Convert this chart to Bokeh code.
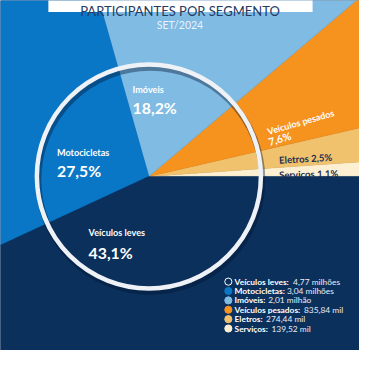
import math
from bokeh.plotting import figure
from bokeh.models import Range1d
from bokeh.core.properties import value
from bokeh.embed import file_html
from bokeh.resources import INLINE

# ---- data ----
segments = ["Serviços", "Eletros", "Veículos pesados", "Imóveis", "Motocicletas", "Veículos leves"]
shares = [1.1, 2.5, 7.6, 18.2, 27.5, 43.1]
share_labels = ["1,1%", "2,5%", "7,6%", "18,2%", "27,5%", "43,1%"]
colors = ["#fdf0d2", "#f1c26d", "#f6921e", "#7fbbe3", "#0a77c6", "#0b305c"]

legend_names = ["Veículos leves:", "Motocicletas:", "Imóveis:", "Veículos pesados:", "Eletros:", "Serviços:"]
legend_values = ["4,77 milhões", "3,04 milhões", "2,01 milhão", "835,84 mil", "274,44 mil", "139,52 mil"]
legend_fill = ["#0b305c", "#0a77c6", "#7fbbe3", "#f6921e", "#f1c26d", "#fdf0d2"]

title = "PARTICIPANTES POR SEGMENTO"
subtitle = "SET/2024"

# ---- layout helpers (reference pixel space 375x366) ----
W, H = 359, 350
S = W / 375.0
NAVY = "#0b305c"
FONT = value("Lato")


def Y(py):
    return 366 - py


def fs(px):
    return "%.1fpx" % (px * S)


def em_width(txt):
    w = 0.0
    for ch in txt:
        if ch in "iíl:,.'I":
            w += 0.27
        elif ch in "rf":
            w += 0.36
        elif ch == "t":
            w += 0.40
        elif ch == " ":
            w += 0.22
        elif ch == "m":
            w += 0.82
        elif ch in "MVW":
            w += 0.68
        elif ch.isupper():
            w += 0.6
        elif ch.isdigit():
            w += 0.58
        else:
            w += 0.52
    return w


p = figure(width=W, height=H, x_range=Range1d(0, 375), y_range=Range1d(0, 366),
           output_backend="svg", toolbar_location=None, x_axis_type=None, y_axis_type=None,
           min_border=0, background_fill_color=NAVY, border_fill_color=NAVY,
           outline_line_color=None)
p.grid.visible = False

cx, cy = 155, Y(184)

# wedges
starts, ends = [], []
acc = 0.0
for s in shares:
    starts.append(acc / 100 * 2 * math.pi)
    acc += s
    ends.append(acc / 100 * 2 * math.pi)
p.wedge(x=cx, y=cy, radius=600, start_angle=starts, end_angle=ends,
        fill_color=colors, line_color=colors, line_width=0.5, direction="anticlock")

# ring with shadow
p.circle(x=[cx + 1.5], y=[cy - 3.5], radius=117, fill_color=None,
         line_color="#021530", line_alpha=0.4, line_width=6)
p.circle(x=[cx], y=[cy], radius=117, fill_color=None,
         line_color="#eef1f5", line_width=4.5)

# title box
p.quad(left=[50], right=[326], bottom=[Y(12)], top=[Y(-2)], fill_color="white", line_color=None)
p.text(x=[187.5], y=[Y(11)], text=[title], text_font=FONT, text_font_size=fs(13.6),
       text_color="#253a63", text_align="center", text_baseline="alphabetic")
p.text(x=[187.5], y=[Y(25.5)], text=[subtitle], text_font=FONT, text_font_size=fs(11),
       text_color="#eaf2fa", text_align="center", text_baseline="alphabetic")

# big labels inside ring
name_idx = [3, 4, 5]
nx = [138, 59, 92]
ny = [93, 159, 243]
py_ = [112, 178, 263]
p.text(x=nx, y=[Y(v) for v in ny], text=[segments[i] for i in name_idx], text_font=FONT,
       text_font_size=fs(9.5), text_font_style="bold", text_color="white",
       text_baseline="alphabetic")
p.text(x=nx, y=[Y(v) for v in py_], text=[share_labels[i] for i in name_idx], text_font=FONT,
       text_font_size=fs(16.5), text_font_style="bold", text_color="white",
       text_baseline="alphabetic")

# Veículos pesados (rotated)
ang = math.radians(16)
p.text(x=[279], y=[Y(137)], text=[segments[2]], text_font=FONT, text_font_size=fs(9.5),
       text_font_style="bold", text_color="white", text_baseline="alphabetic", angle=ang)
p.text(x=[280], y=[Y(148)], text=[share_labels[2]], text_font=FONT, text_font_size=fs(11),
       text_font_style="bold", text_color="white", text_baseline="alphabetic", angle=ang)

# Eletros / Serviços
p.text(x=[291, 291], y=[Y(167), Y(182.5)],
       text=[segments[1] + " " + share_labels[1], segments[0] + " " + share_labels[0]],
       text_font=FONT, text_font_size=fs(10), text_font_style="bold", text_color="#1c2f52",
       text_baseline="alphabetic", angle=[math.radians(3), math.radians(1.5)])

# legend
rows = [294, 303.8, 313.6, 323.4, 333.2, 343]
LF = 8.8
name_x = 244.5
val_x = [name_x + 1.0 * em_width(n) * LF + 2.5 for n in legend_names]
p.scatter(x=[238] * 6, y=[Y(r) for r in rows], size=7.5 * S, fill_color=legend_fill,
          line_color=["white"] + legend_fill[1:], line_width=1)
p.text(x=[name_x] * 6, y=[Y(r) for r in rows], text=legend_names, text_font=FONT,
       text_font_size=fs(LF), text_font_style="bold", text_color="white",
       text_baseline="middle")
p.text(x=val_x, y=[Y(r) for r in rows], text=legend_values, text_font=FONT,
       text_font_size=fs(LF), text_color="#e8eef6", text_baseline="middle")

open("out.html", "w").write(file_html(p, INLINE))
